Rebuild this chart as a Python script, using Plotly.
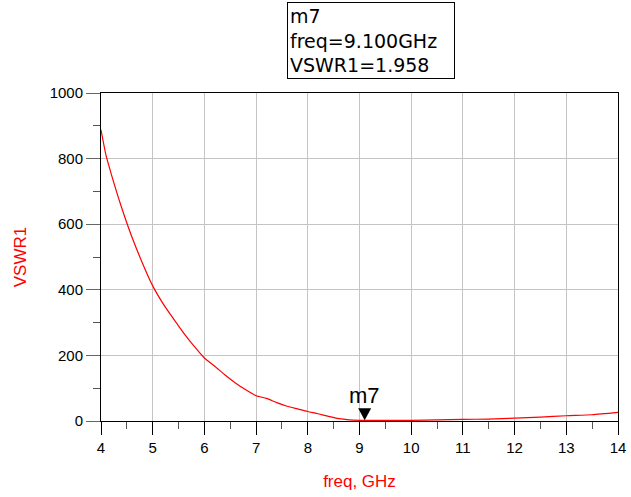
import plotly.graph_objects as go

freq = [4.0, 4.1, 4.2, 4.4, 4.6, 4.8, 5.0, 5.2, 5.4, 5.6, 5.8, 6.0, 6.2, 6.4, 6.6, 6.8,
        7.0, 7.2, 7.4, 7.6, 7.8, 8.0, 8.2, 8.4, 8.6, 8.8, 9.0, 9.1, 9.2, 9.4, 9.6,
        9.8, 10.0, 10.5, 11.0, 11.5, 12.0, 12.5, 13.0, 13.5, 14.0]
vswr1 = [888, 808, 752, 650, 560, 482, 412, 358, 312, 268, 228, 192, 167, 140, 116, 95,
         77, 69, 56, 45, 37, 29, 22, 14, 7, 3.5, 2.2, 1.958, 1.9, 1.8, 1.8,
         1.9, 2.1, 3.5, 4.8, 6.0, 8.5, 12, 16, 19, 26]

marker_name = "m7"
marker_freq = 9.1
marker_val = 1.958

x_ticks = [4, 5, 6, 7, 8, 9, 10, 11, 12, 13, 14]
y_ticks = [0, 200, 400, 600, 800, 1000]

fig = go.Figure()
fig.add_trace(go.Scatter(x=freq, y=vswr1, mode="lines",
                         line=dict(color="#ff0000", width=1.2, shape="spline", smoothing=0.6),
                         hoverinfo="skip", showlegend=False))

fig.add_shape(type="path", xref="x", yref="y",
              xsizemode="pixel", ysizemode="pixel",
              xanchor=marker_freq, yanchor=marker_val,
              path="M -6.5 12 L 6.5 12 L 0 0 Z",
              fillcolor="black", line=dict(color="black", width=0))

fig.add_annotation(x=marker_freq, y=marker_val, xref="x", yref="y",
                   text=marker_name, showarrow=False, yanchor="bottom",
                   yshift=10, font=dict(family="Liberation Sans, Arial", size=22, color="black"))

box_text = f"{marker_name}<br>freq={marker_freq:.3f}GHz<br>VSWR1={marker_val:.3f}"
fig.add_annotation(x=0.36, y=1.276, xref="paper", yref="paper",
                   xanchor="left", yanchor="top", align="left",
                   text=box_text, showarrow=False, width=162,
                   bordercolor="black", borderwidth=1, borderpad=2,
                   bgcolor="white",
                   font=dict(family="DejaVu Sans", size=19, color="black"))

fig.update_layout(
    width=631, height=497,
    margin=dict(l=101, r=13, t=93, b=76),
    paper_bgcolor="white", plot_bgcolor="white",
    font=dict(family="Liberation Sans, Arial", size=15, color="black"),
    xaxis=dict(range=[4, 14], tickvals=x_ticks, ticks="outside", ticklen=13,
               tickcolor="black", tickwidth=1, automargin=False,
               showline=True, linecolor="black", linewidth=1, mirror=True,
               showgrid=True, gridcolor="#c4c4c4", gridwidth=1, zeroline=False,
               minor=dict(dtick=0.5, ticks="outside", ticklen=7, tickcolor="#555", showgrid=False),
               title=dict(text="freq, GHz", font=dict(color="#ff0000", size=17), standoff=20)),
    yaxis=dict(range=[0, 1000], tickvals=y_ticks, ticks="outside", ticklen=14,
               tickcolor="#666", tickwidth=1, automargin=False,
               showline=True, linecolor="black", linewidth=1, mirror=True,
               showgrid=True, gridcolor="#c4c4c4", gridwidth=1, zeroline=False,
               minor=dict(dtick=100, ticks="outside", ticklen=7, tickcolor="#555", showgrid=False),
               title=dict(text="VSWR1", font=dict(color="#ff0000", size=17), standoff=18)),
)

fig.write_html("out.html")
